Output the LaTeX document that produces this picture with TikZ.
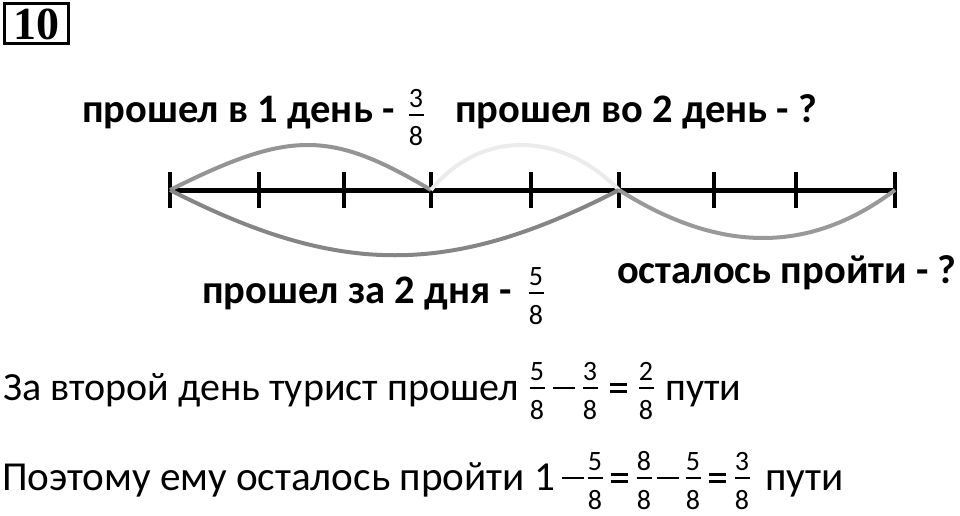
\documentclass[tikz,border=0pt]{standalone}
\usepackage{fontspec}
\setmainfont{Carlito}
\newfontfamily\numfont{Liberation Serif}
\tikzset{
  x=1pt,y=-1pt,
  lbl/.style={anchor=base west,inner sep=0pt,font=\fontsize{40.5}{44}\selectfont\bfseries},
  txt/.style={anchor=base west,inner sep=0pt,font=\fontsize{40}{44}\selectfont},
  txtb/.style={anchor=base west,inner sep=0pt,font=\fontsize{41.2}{44}\selectfont},
  frnum/.style={anchor=base,inner sep=0pt,font=\fontsize{28}{30}\selectfont},
  fbar/.style={line width=2.4pt},
  axis/.style={line width=5pt},
  tick/.style={line width=4.5pt},
  arc/.style={line width=4pt},
}
% \frc{name}{x}{bar y}{num}{den}
\newcommand{\frc}[5]{%
  \node[frnum] (#1n) at (#2,#3-7.5) {#4};
  \draw[fbar] (#2-7.5,#3) coordinate (#1a) -- (#2+7.5,#3) coordinate (#1b);
  \node[frnum] (#1d) at (#2,#3+31) {#5};
}
\newcommand{\mns}[3]{\draw[fbar] (#2-11,#3) coordinate (#1a) -- (#2+11,#3) coordinate (#1b);}
\newcommand{\eqs}[3]{\draw[fbar] (#2-8.5,#3-3.5) coordinate (#1a) -- (#2+8.5,#3-3.5) (#2-8.5,#3+3.5) coordinate (#1b) -- (#2+8.5,#3+3.5);}
\begin{document}
\begin{tikzpicture}
\useasboundingbox (0,0) rectangle (960,516);
% box 10
\node[draw,line width=3pt,inner sep=0pt,minimum width=64pt,minimum height=40pt,font=\numfont\fontsize{46}{48}\selectfont\bfseries] (num) at (36.5,24) {10};
% axis
\foreach \i/\xx in {0/170,1/259,2/344,3/431,4/531,5/619,6/714,7/796,8/895}{
  \coordinate (t\i) at (\xx,190);
}
\draw[axis] (t0) -- (t8);
\foreach \i in {0,...,8}{
  \draw[tick] ([yshift=-18pt]t\i) -- ([yshift=18pt]t\i);
}
% arcs
\draw[arc,color=black!42] (t0) .. controls (290,130) and (330,130) .. (t3);
\draw[arc,color=black!8] (t3) .. controls (480,130) and (560,130) .. (t5);
\draw[arc,color=black!48] (t0) .. controls (340,277) and (450,277) .. (t5);
\draw[arc,color=black!40] (t5) .. controls (720,254) and (810,254) .. (t8);
% labels
\node[lbl] (l1) at (82,123) {прошел в 1 день -};
\frc{fa}{416}{115}{3}{8}
\node[lbl] (l2) at (455,123) {прошел во 2 день - ?};
\node[lbl] (l3) at (202,303) {прошел за 2 дня -};
\frc{fb}{536}{293}{5}{8}
\node[lbl] (l4) at (617,283) {осталось пройти - ?};
% bottom text line 1
\node[txt] (s1) at (3,400) {За второй день турист прошел};
\frc{ga}{537}{388}{5}{8}
\mns{gm}{564}{388}
\frc{gb}{590}{388}{3}{8}
\eqs{ge}{618}{388}
\frc{gc}{646}{388}{2}{8}
\node[txt] (s1e) at (665,400) {пути};
% bottom text line 2
\node[txtb] (s2) at (2,490) {Поэтому ему осталось пройти 1};
\mns{hm}{573}{478}
\frc{ha}{595}{478}{5}{8}
\eqs{he}{619}{478}
\frc{hb}{644}{478}{8}{8}
\mns{hn}{668}{478}
\frc{hc}{693}{478}{5}{8}
\eqs{hf}{717}{478}
\frc{hd}{742}{478}{3}{8}
\node[txtb] (s2e) at (765,490) {пути};
\end{tikzpicture}
\end{document}
